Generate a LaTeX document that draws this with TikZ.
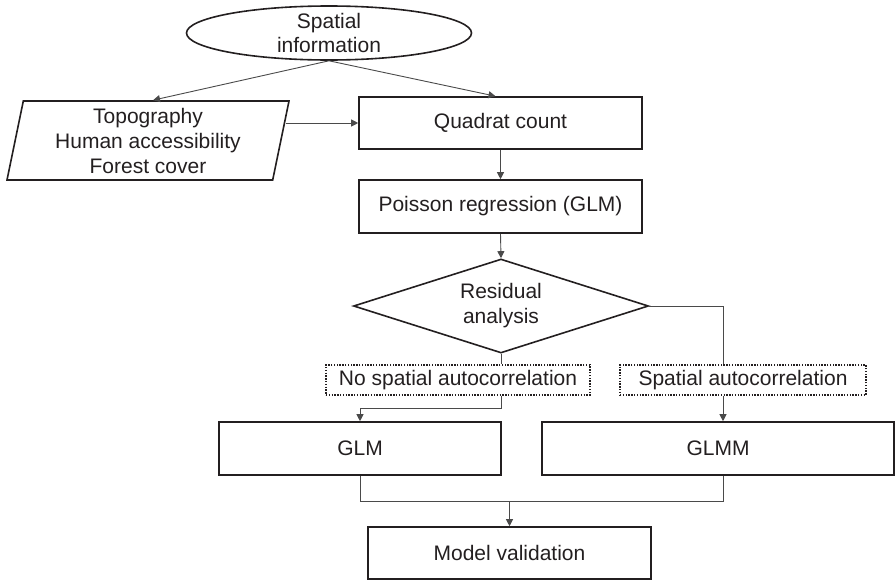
\documentclass[tikz,border=0pt]{standalone}
\usepackage{fontspec}
\setmainfont{Liberation Sans}
\usetikzlibrary{shapes.geometric,arrows.meta,calc}
\definecolor{txt}{HTML}{231F20}
\definecolor{conn}{HTML}{4A4A4A}
\tikzset{
  every node/.style={font=\fontsize{21}{25}\selectfont, text=txt, align=center},
  boxnode/.style={draw=txt, line width=1.6pt, rectangle, inner sep=0pt},
  dotbox/.style={draw=txt, line width=1.4pt, dash pattern=on 1.4pt off 1.4pt, rectangle, inner sep=0pt},
  conline/.style={draw=conn, line width=0.9pt},
  arr/.style={conline, -{Triangle[length=7pt,width=7pt]}},
}
\begin{document}
\begin{tikzpicture}[x=1pt,y=-1pt]
\useasboundingbox (0,0) rectangle (896,581);
% nodes
\node[draw=txt, line width=1.6pt, ellipse, minimum width=285pt, minimum height=54pt, inner sep=0pt] (ell) at (329,33) {};
\node (elltxt) at (329,33) {Spatial\\[-0.5pt]information};
\node[draw=txt, line width=1.6pt, trapezium, trapezium left angle=76, trapezium right angle=104, trapezium stretches body, minimum width=282pt, minimum height=79pt, inner sep=0pt] (topo) at (148,140.5) {Topography\\Human accessibility\\Forest cover};
\node[boxnode, minimum width=283pt, minimum height=52pt] (quad) at (500.5,123) {Quadrat count};
\node[boxnode, minimum width=283pt, minimum height=53pt] (pois) at (500.5,206.5) {Poisson regression (GLM)};
\node[draw=txt, line width=1.6pt, diamond, aspect=3, minimum width=295pt, minimum height=94pt, inner sep=0pt] (diam) at (501,306) {Residual\\analysis};
\node[dotbox, minimum width=264pt, minimum height=30pt] (nospat) at (458,380) {No spatial autocorrelation};
\node[dotbox, minimum width=246pt, minimum height=30pt] (spat) at (743,380) {Spatial autocorrelation};
\node[boxnode, minimum width=282pt, minimum height=53pt] (glm) at (360,448.5) {GLM};
\node[boxnode, minimum width=352pt, minimum height=53pt] (glmm) at (718,448.5) {GLMM};
\node[boxnode, minimum width=283pt, minimum height=52pt] (model) at (509.5,553) {Model validation};
\coordinate (gx) at (723,0);
\coordinate (jn) at (509.5,501);
% connectors
\draw[arr] (ell.south) -- ($(topo.north)+(5,0)$);
\draw[arr] (ell.south) -- ($(quad.north)+(-5,0)$);
\draw[arr] ($(topo.east |- quad.west)+(4,0)$) -- (quad.west);
\draw[arr] (quad.south) -- (pois.north);
\draw[arr] (pois.south) -- (diam.north);
\draw[conline] (diam.south) -- (diam.south |- nospat.north);
\draw[arr] (diam.south |- nospat.south) -- ($(diam.south |- nospat.south)+(0,13)$) -| (glm.north);
\draw[conline] (diam.east) -| (gx |- spat.north);
\draw[arr] (gx |- spat.south) -- (gx |- glmm.north);
\draw[conline] (glm.south) |- (gx |- jn) -- (gx |- glmm.south);
\draw[arr] (jn) -- (model.north);
\end{tikzpicture}
\end{document}
